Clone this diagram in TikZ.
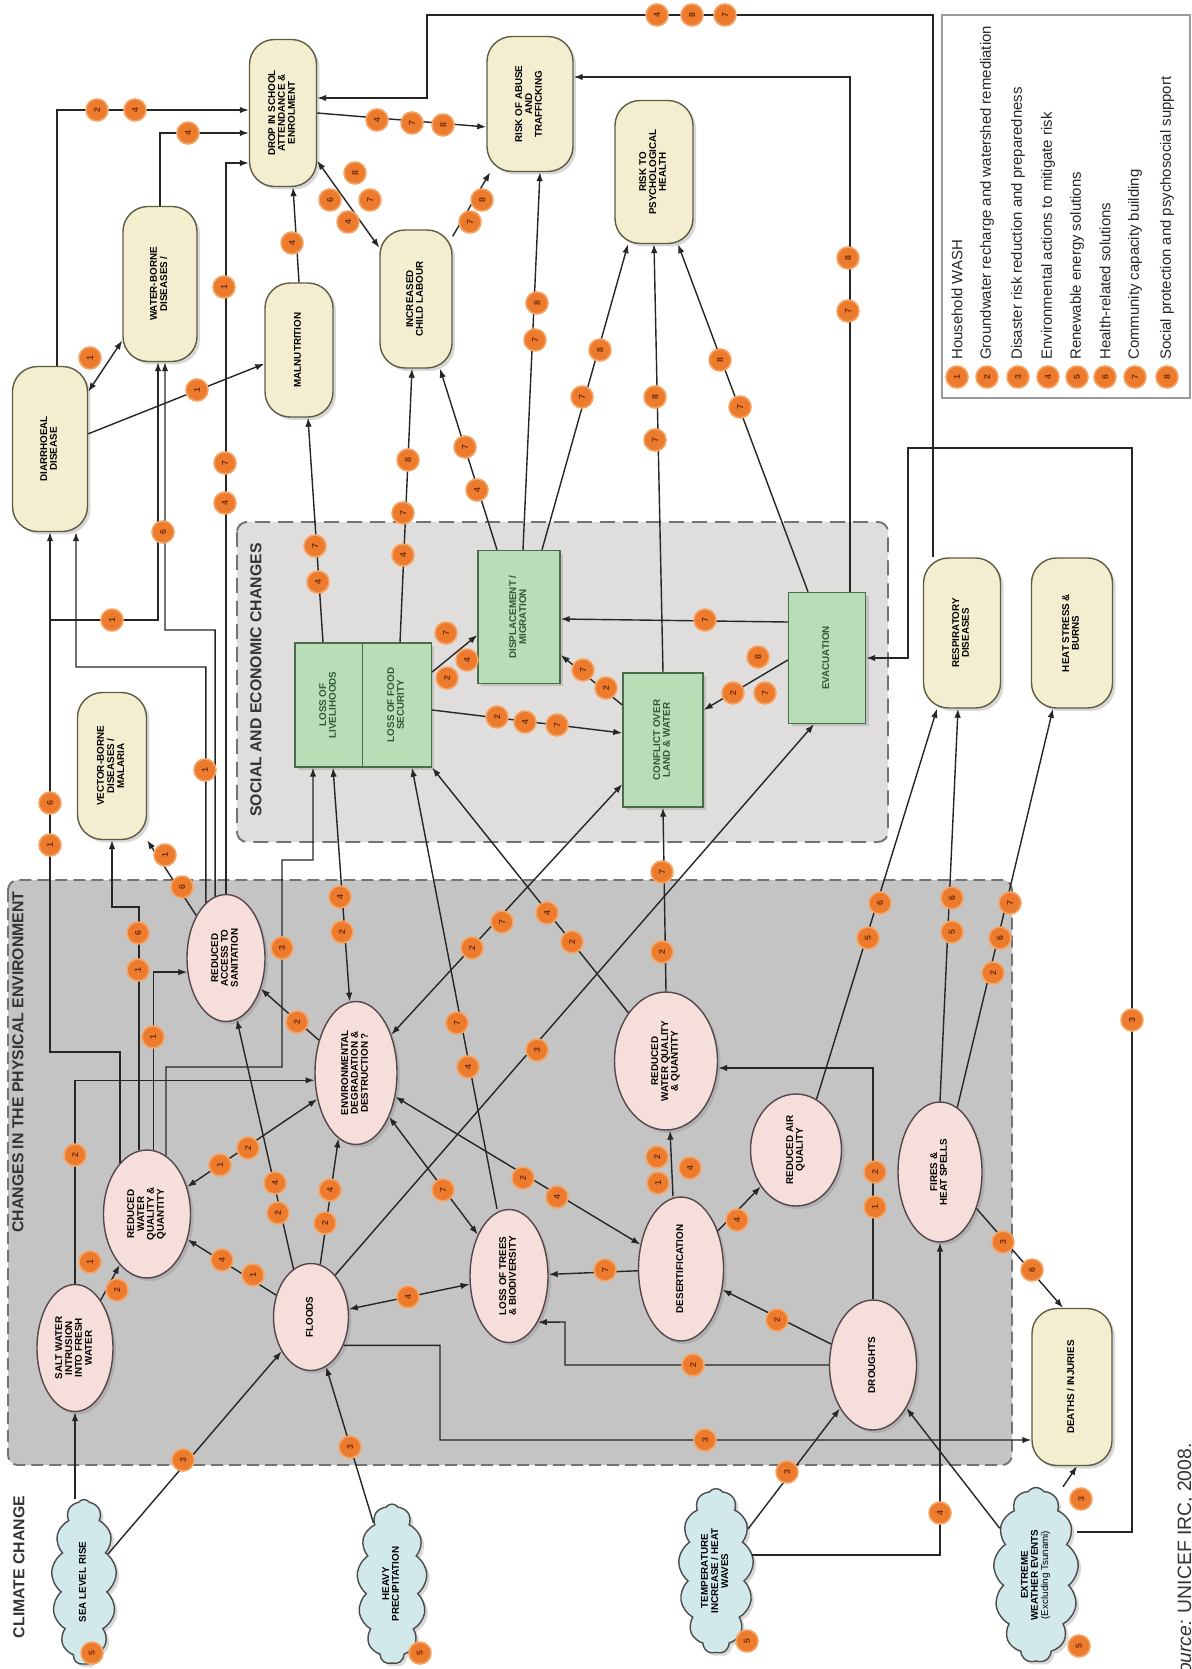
\documentclass[tikz,border=0pt]{standalone}
\usepackage{fontspec}
\setmainfont{Liberation Sans}
\usetikzlibrary{arrows.meta,shapes.geometric,shapes.symbols,shadows}

\definecolor{boxyellow}{HTML}{F3EECF}
\definecolor{boxline}{HTML}{5E5C45}
\definecolor{effectpink}{HTML}{F6DFDB}
\definecolor{effectline}{HTML}{55474A}
\definecolor{socialgreen}{HTML}{B8DDB7}
\definecolor{socialline}{HTML}{4C6B4C}
\definecolor{socialtext}{HTML}{2F5A34}
\definecolor{cloudblue}{HTML}{D2E9EC}
\definecolor{physgrey}{HTML}{C5C4C4}
\definecolor{socgrey}{HTML}{DFDEDD}
\definecolor{badgeorange}{HTML}{EC7B2E}
\definecolor{badgerim}{HTML}{F6A463}
\definecolor{badgetext}{HTML}{7A2E05}

\newcommand{\vlabel}[1]{\rotatebox{90}{\begin{tabular}{@{}c@{}}#1\end{tabular}}}
\renewcommand{\arraystretch}{0.9}

\tikzset{
  outcome/.style={rectangle, draw=boxline, line width=0.8pt, fill=boxyellow, rounded corners=5mm, inner sep=0pt,
    drop shadow={opacity=0.3, shadow xshift=0.6mm, shadow yshift=-0.6mm}},
  effect/.style={ellipse, draw=effectline, line width=0.8pt, fill=effectpink, inner sep=0pt,
    drop shadow={opacity=0.3, shadow xshift=0.6mm, shadow yshift=-0.6mm}},
  change/.style={rectangle, draw=socialline, line width=0.8pt, fill=socialgreen, text=socialtext, inner sep=0pt,
    drop shadow={opacity=0.3, shadow xshift=0.6mm, shadow yshift=-0.6mm}},
  driver/.style={cloud, cloud puffs=13, cloud puff arc=110, cloud ignores aspect, draw=black!70, line width=0.8pt,
    fill=cloudblue, inner sep=0.5mm, drop shadow={opacity=0.3, shadow xshift=0.6mm, shadow yshift=-0.6mm}},
  badge/.style={circle, fill=badgeorange, draw=badgerim, line width=0.9pt, minimum size=4.4mm, inner sep=0pt,
    font=\fontsize{5}{5}\selectfont\bfseries, text=badgetext, rotate=90},
  keytext/.style={rotate=90, anchor=west, inner sep=0pt, font=\fontsize{8.5}{9}\selectfont, text=black!85},
  title/.style={rotate=90, inner sep=0pt, font=\fontsize{9}{10}\selectfont\bfseries, text=black!80},
  link/.style={draw=black!85, line width=0.8pt},
  arr/.style={link, -{Latex[length=1.8mm,width=1.3mm]}},
  dbl/.style={link, {Latex[length=1.8mm,width=1.3mm]}-{Latex[length=1.8mm,width=1.3mm]}},
  physbox/.style={fill=physgrey, draw=black!55, line width=1.1pt, dash pattern=on 2.4mm off 1.2mm, rounded corners=2mm},
  socbox/.style={fill=socgrey, draw=black!55, line width=1.1pt, dash pattern=on 3mm off 1.6mm, rounded corners=2mm}
}

\begin{document}
\begin{tikzpicture}[x=0.02cm, y=-0.02cm, font=\fontsize{5.6}{6.3}\selectfont\bfseries]
  \useasboundingbox (0,0) rectangle (1192,1669);
  \fill[white] (0,0) rectangle (1192,1669);

  % background areas
  \draw[physbox] (8,880) rectangle (1012,1465);
  \draw[socbox] (237,522) rectangle (888,842);
  \draw[black!40, line width=0.8pt] (942,15) rectangle (1190,398);

  \node[title] (tclimate) at (19,1567) {CLIMATE CHANGE};
  \node[title] (tphys) at (18,1062) {CHANGES IN THE PHYSICAL ENVIRONMENT};
  \node[title] (tsocial) at (256,680) {SOCIAL AND ECONOMIC CHANGES};

  % outcomes for children
  \node[outcome, minimum width=1.34cm, minimum height=2.94cm] (drop) at (283,113) {\vlabel{DROP IN SCHOOL\\ATTENDANCE \&\\ENROLMENT}};
  \node[outcome, minimum width=1.48cm, minimum height=3.1cm] (wbd) at (160,284) {\vlabel{WATER-BORNE\\DISEASES /}};
  \node[outcome, minimum width=1.36cm, minimum height=2.68cm] (maln) at (299,350) {\vlabel{MALNUTRITION}};
  \node[outcome, minimum width=1.5cm, minimum height=3.3cm] (diar) at (50,449) {\vlabel{DIARRHOEAL\\DISEASE}};
  \node[outcome, minimum width=1.44cm, minimum height=2.76cm] (child) at (416,299) {\vlabel{INCREASED\\CHILD LABOUR}};
  \node[outcome, minimum width=1.72cm, minimum height=2.7cm] (abuse) at (530,104) {\vlabel{RISK OF ABUSE\\AND\\TRAFFICKING}};
  \node[outcome, minimum width=1.56cm, minimum height=2.86cm] (psych) at (654,172) {\vlabel{RISK TO\\PSYCHOLOGICAL\\HEALTH}};
  \node[outcome, minimum width=1.38cm, minimum height=2.94cm] (vbd) at (112,766) {\vlabel{VECTOR-BORNE\\DISEASES /\\MALARIA}};
  \node[outcome, minimum width=1.54cm, minimum height=3cm] (resp) at (962,633) {\vlabel{RESPIRATORY\\DISEASES}};
  \node[outcome, minimum width=1.62cm, minimum height=3cm] (heat) at (1072,633) {\vlabel{HEAT STRESS \&\\BURNS}};
  \node[outcome, minimum width=1.6cm, minimum height=3.14cm] (deaths) at (1072,1387) {\vlabel{DEATHS / INJURIES}};

  % social and economic changes
  \node[change, minimum width=1.36cm, minimum height=2.48cm] (liveli) at (329,705) {\vlabel{LOSS OF\\LIVELIHOODS}};
  \node[change, minimum width=1.38cm, minimum height=2.48cm] (food) at (397,705) {\vlabel{LOSS OF FOOD\\SECURITY}};
  \node[change, minimum width=1.64cm, minimum height=2.66cm] (displ) at (519,617) {\vlabel{DISPLACEMENT /\\MIGRATION}};
  \node[change, minimum width=1.6cm, minimum height=2.68cm] (confl) at (663,740) {\vlabel{CONFLICT OVER\\LAND \& WATER}};
  \node[change, minimum width=1.54cm, minimum height=2.62cm] (evac) at (827,658) {\vlabel{EVACUATION}};

  % physical environment
  \node[effect, minimum width=1.52cm, minimum height=2.54cm] (salt) at (75,1348) {\vlabel{SALT WATER\\INTRUSION\\INTO FRESH\\WATER}};
  \node[effect, minimum width=1.74cm, minimum height=2.56cm] (wq1) at (147,1214) {\vlabel{REDUCED\\WATER\\QUALITY \&\\QUANTITY}};
  \node[effect, minimum width=1.5cm, minimum height=2.14cm] (floods) at (311,1317) {\vlabel{FLOODS}};
  \node[effect, minimum width=1.56cm, minimum height=2.54cm] (sanit) at (226,958) {\vlabel{REDUCED\\ACCESS TO\\SANITATION}};
  \node[effect, minimum width=1.64cm, minimum height=2.86cm] (envdeg) at (356,1073) {\vlabel{ENVIRONMENTAL\\DEGRADATION \&\\DESTRUCTION ?}};
  \node[effect, minimum width=1.56cm, minimum height=2.66cm] (trees) at (509,1276) {\vlabel{LOSS OF TREES\\\& BIODIVERSITY}};
  \node[effect, minimum width=1.7cm, minimum height=2.88cm] (desert) at (681,1269) {\vlabel{DESERTIFICATION}};
  \node[effect, minimum width=2.06cm, minimum height=2.76cm] (wq2) at (666,1061) {\vlabel{REDUCED\\WATER QUALITY\\\& QUANTITY}};
  \node[effect, minimum width=1.82cm, minimum height=2.24cm] (air) at (796,1150) {\vlabel{REDUCED AIR\\QUALITY}};
  \node[effect, minimum width=1.68cm, minimum height=2.8cm] (fires) at (940,1172) {\vlabel{FIRES \&\\HEAT SPELLS}};
  \node[effect, minimum width=1.74cm, minimum height=2.6cm] (drought) at (873,1365) {\vlabel{DROUGHTS}};

  % climate change
  \node[driver, minimum width=1.3cm, minimum height=3.3cm] (sea) at (84,1582) {\vlabel{SEA LEVEL RISE}};
  \node[driver, minimum width=1.4cm, minimum height=3.2cm] (rain) at (392,1584) {\vlabel{HEAVY\\PRECIPITATION}};
  \node[driver, minimum width=1.5cm, minimum height=3.3cm] (temp) at (716,1571) {\vlabel{TEMPERATURE\\INCREASE / HEAT\\WAVES}};
  \node[driver, minimum width=1.7cm, minimum height=3.5cm] (extreme) at (1036,1575) {\vlabel{EXTREME\\WEATHER EVENTS\\{\mdseries (Excluding Tsunami)}}};

  % climate drivers
  \draw[arr] (salt.south |- sea.north) -- (salt.south);
  \draw[arr] (sea) -- (floods);
  \draw[arr] (rain) -- (floods);
  \draw[arr] (temp) -- (drought);
  \draw[arr] ([yshift=3.2mm]temp.east) -| (fires.south);
  \draw[arr] (extreme) -- (drought);
  \draw[arr] ([xshift=5.4mm]extreme.north) -- ([xshift=1mm]deaths.south);
  \draw[arr] ([yshift=8.6mm]extreme.east) -| (1132,448) -| (908,658) -- (evac.east);

  % physical environment links
  \draw[arr] (salt) -- (wq1);
  \draw[arr] (salt.north) |- (envdeg.190);
  \draw[arr] (wq1.118) |- (50,1052) -- (diar.south);
  \coordinate (j1) at (50,620);
  \draw[arr] (j1) -| ([xshift=-0.4mm]wbd.south);
  \draw[arr] (wq1.97) |- (112,907) -- (vbd.south);
  \draw[arr] (wq1.84) |- (sanit.200);
  \draw[arr] (wq1.72) |- (282,1067) |- (313,860) -- ([xshift=-3.2mm]liveli.south);
  \draw[dbl] (wq1) -- (envdeg);
  \draw[arr] (floods) -- (wq1);
  \draw[arr] (floods.110) -- (sanit.-80);
  \draw[arr] (floods.80) -- (envdeg.-105);
  \draw[dbl] (floods) -- (trees);
  \draw[arr] (floods.60) -- ([xshift=-2.6mm]evac.south);
  \draw[arr] (floods.-41) -| (440,1440) -- ([yshift=-10.6mm]deaths.west);
  \draw[arr] (envdeg) -- (sanit);
  \draw[dbl] (envdeg) -- (trees);
  \draw[dbl] (envdeg) -- (desert);
  \draw[dbl] (envdeg) -- (confl);
  \draw[dbl] ([xshift=0.8mm]liveli.south) -- (envdeg.95);
  \draw[arr] (desert) -- (trees);
  \draw[arr] (desert) -- (air);
  \draw[arr] ([xshift=-1.6mm]desert.north) -- ([xshift=0.8mm]wq2.south);
  \draw[arr] (drought) -- (desert);
  \draw[arr] (drought.west) -| (565,1322) -- (trees.-58);
  \draw[arr] (drought.north) |- ([yshift=-1.4mm]wq2.east);
  \draw[arr] ([xshift=-2.4mm]trees.north) -- ([xshift=3mm]food.south);
  \draw[arr] (wq2.128) -- (food.south east);
  \draw[arr] (wq2.north) -- (confl.south);
  \draw[arr] (air.68) -- ([xshift=-5mm]resp.south);
  \draw[arr] (fires.north) -- ([xshift=-0.8mm]resp.south);
  \draw[arr] (fires.75) -- ([xshift=-3.8mm]heat.south);
  \draw[arr] (fires.-45) -- ([xshift=-1.8mm]deaths.north);

  % sanitation and health
  \draw[arr] (sanit.110) |- (76,667) -- ([xshift=5.2mm]diar.south);
  \draw[arr] (sanit.100) |- (165,630) -- ([xshift=1mm]wbd.south);
  \draw[arr] (sanit.north) |- ([yshift=-10mm]drop.west);
  \draw[arr] (sanit.125) -- (vbd.south east);
  \draw[arr] (wbd.north) |- ([yshift=-4mm]drop.west);
  \draw[arr] ([xshift=1.4mm]diar.north) |- ([yshift=0.6mm]drop.west);
  \draw[dbl] (diar) -- (wbd);
  \draw[arr] (diar) -- (maln);
  \draw[arr] (maln.north) -- ([xshift=2mm]drop.south);
  \draw[dbl] (drop) -- (child);
  \draw[arr] (drop.east) -- ([yshift=-4.6mm]abuse.west);
  \draw[arr] (child) -- (abuse);

  % social and economic links
  \draw[arr] ([xshift=-1.2mm]liveli.north) -- ([xshift=1.8mm]maln.south);
  \draw[arr] ([xshift=0.6mm]food.north) -- ([xshift=-0.8mm]child.south);
  \draw[arr] ([yshift=6.6mm]food.east) -- ([yshift=-3.6mm]displ.west);
  \draw[arr] ([yshift=-1mm]food.east) -- ([yshift=1.4mm]confl.west);
  \draw[arr] ([xshift=-4.4mm]displ.north) -- ([xshift=4.8mm]child.south);
  \draw[arr] ([xshift=0.8mm]displ.north) -- ([xshift=2mm]abuse.south);
  \draw[arr] ([xshift=4.6mm]displ.north) -- ([xshift=-5.2mm]psych.south);
  \draw[arr] ([yshift=7mm]confl.west) -- ([yshift=-7.6mm]displ.east);
  \draw[arr] (confl.north) -- (psych.south);
  \draw[arr] ([yshift=7.2mm]evac.west) -- ([yshift=-0.4mm]displ.east);
  \draw[arr] ([yshift=-0.4mm]evac.west) -- ([yshift=6mm]confl.east);
  \draw[arr] ([xshift=-3.8mm]evac.north) -- ([xshift=4.8mm]psych.south);
  \draw[arr] ([xshift=4.6mm]evac.north) |- ([yshift=5.4mm]abuse.east);
  \draw[arr] ([xshift=-5.8mm]resp.north) |- (427,15) |- ([yshift=3mm]drop.east);

  % response badges
  \foreach \bx/\by/\bn [count=\i] in {
    97/110/2, 135/110/4, 188/133/4, 90/358/1, 197/390/1, 224/287/1, 292/243/4,
    355/173/8, 330/200/6, 370/200/7, 348/222/4, 377/120/4, 412/123/7, 443/125/8,
    470/222/7, 482/200/8, 537/303/8, 535/340/7, 600/350/8, 582/397/7,
    655/397/8, 655/440/7, 720/360/8, 740/407/7, 657/15/4, 692/15/8, 725/15/7,
    848/258/8, 848/311/7, 163/532/6, 225/463/7, 225/503/4, 112/620/1, 205/770/1,
    50/803/6, 50/845/1, 318/582/4, 315/546/7, 403/555/4, 403/513/7, 408/460/8,
    465/447/7, 477/490/4, 446/633/7, 467/660/4, 447/678/2, 497/717/2, 525/722/4,
    557/725/7, 583/670/7, 606/688/2, 705/620/7, 758/657/8, 733/693/2, 765/693/7,
    182/887/6, 165/855/1, 138/933/6, 138/970/1, 153/1037/1, 282/948/3, 340/897/4,
    342/932/2, 297/1022/2, 75/1155/2, 220/1165/1, 248/1148/2, 275/1183/4,
    278/1213/2, 330/1190/4, 325/1223/2, 222/1260/4, 253/1275/1, 90/1262/1,
    117/1290/2, 183/1460/3, 350/1447/3, 457/1023/7, 468/1067/4, 502/922/7,
    472/948/2, 547/913/4, 572/942/2, 537/1050/3, 662/872/7, 662/952/2, 443/1190/7,
    523/1178/2, 557/1197/4, 408/1297/4, 605/1270/7, 693/1365/2, 705/1440/3,
    777/1320/2, 737/1220/4, 657/1157/2, 658/1183/1, 690/1168/4, 875/1172/2,
    875/1207/1, 880/903/6, 868/938/5, 952/898/6, 952/932/5, 1010/903/7,
    1000/938/6, 993/973/2, 1132/1020/3, 1003/1242/3, 1032/1270/6, 787/1472/3,
    940/1513/4, 1081/1499/3, 92/1653/5, 420/1653/5, 747/1641/5, 1079/1646/5}
    \node[badge] (b\i) at (\bx,\by) {\bn};

  % key
  \foreach \lx/\lt [count=\i] in {957/Household WASH, 987/Groundwater recharge and watershed remediation,
    1018/Disaster risk reduction and preparedness, 1048/Environmental actions to mitigate risk,
    1077/Renewable energy solutions, 1105/Health-related solutions,
    1135/Community capacity building, 1167/Social protection and psychosocial support} {
    \node[badge] (key\i) at (\lx,377) {\i};
    \node[keytext] (keytext\i) at (\lx,360) {\lt};
  }

  \node[rotate=90, anchor=base east, inner sep=0pt, font=\fontsize{11}{12}\selectfont, text=black!80] (source) at (1191,1443) {\textit{Source:} UNICEF IRC, 2008.};
\end{tikzpicture}
\end{document}
